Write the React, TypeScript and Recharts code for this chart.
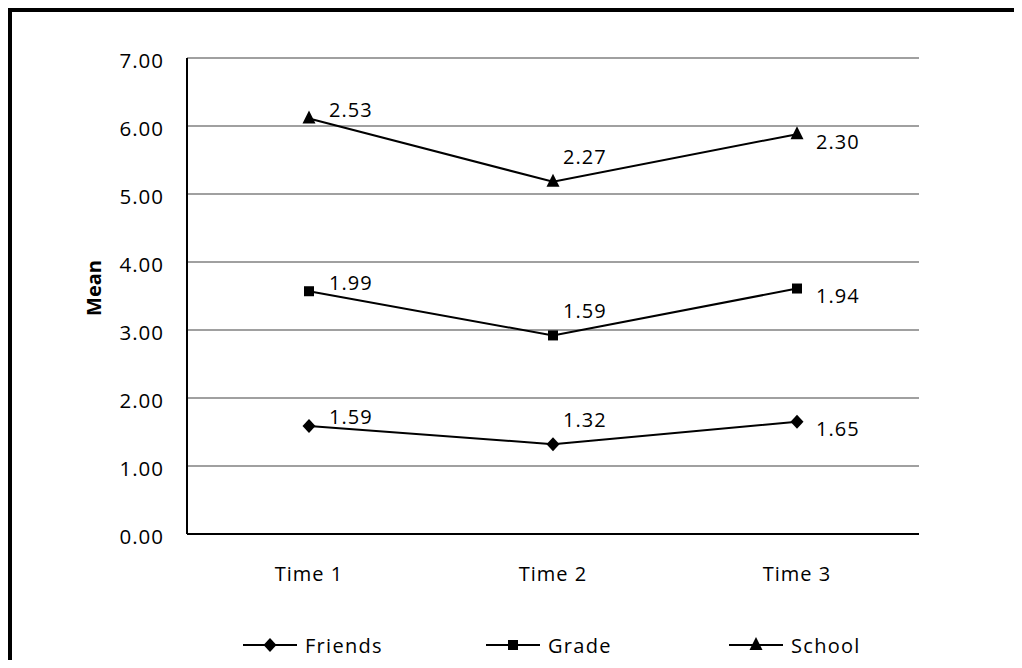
// @ts-ignore
import React from 'react'
// @ts-ignore
import { LineChart, Line, XAxis, YAxis, CartesianGrid, Legend, LabelList } from 'recharts'

const times = ['Time 1', 'Time 2', 'Time 3']
const friends = [1.59, 1.32, 1.65]
const grade = [3.57, 2.92, 3.61]
const school = [6.11, 5.18, 5.88]
const friendsLabels = ['1.59', '1.32', '1.65']
const gradeLabels = ['1.99', '1.59', '1.94']
const schoolLabels = ['2.53', '2.27', '2.30']
const yTicks = [0, 1, 2, 3, 4, 5, 6, 7]

const data = times.map((t, i) => ({
  time: t,
  friends: friends[i],
  grade: grade[i],
  school: school[i],
  friendsLbl: friendsLabels[i],
  gradeLbl: gradeLabels[i],
  schoolLbl: schoolLabels[i],
}))

const font = '"Open Sans", sans-serif'

const Diamond = (p: any) => {
  const { cx, cy } = p
  if (cx == null) return null
  return <path d={`M${cx},${cy - 7}L${cx + 6.5},${cy}L${cx},${cy + 7}L${cx - 6.5},${cy}Z`} fill="#000" />
}
const Square = (p: any) => {
  const { cx, cy } = p
  if (cx == null) return null
  return <rect x={cx - 5} y={cy - 5} width={10} height={10} fill="#000" />
}
const Triangle = (p: any) => {
  const { cx, cy } = p
  if (cx == null) return null
  return <path d={`M${cx},${cy - 8}L${cx + 6.5},${cy + 5}L${cx - 6.5},${cy + 5}Z`} fill="#000" />
}

// label placement roughly like the original (right-up, above, right)
const offsets = [
  { dx: 20, dy: -9 },
  { dx: 10, dy: -25 },
  { dx: 19, dy: 7 },
]

const renderLabel = (p: any) => {
  const { x, y, value, index } = p
  const o = offsets[index] || offsets[0]
  return (
    <text x={x + o.dx} y={y + o.dy} dominantBaseline="central" fontSize={20}
      fontFamily={font} letterSpacing={1} fill="#000">{value}</text>
  )
}

const MeanLabel = (p: any) => {
  const vb = p.viewBox || { x: 0, y: 0, width: 0, height: 0 }
  const x = vb.x + 85
  const y = vb.y + vb.height / 2 - 8
  return (
    <text x={x} y={y} transform={`rotate(-90, ${x}, ${y})`} textAnchor="middle" dominantBaseline="central"
      fontSize={20} fontWeight="bold" fontFamily={font} fill="#000">Mean</text>
  )
}

const legendItems = [
  { name: 'Friends', Icon: Diamond },
  { name: 'Grade', Icon: Square },
  { name: 'School', Icon: Triangle },
]

const renderLegend = () => (
  <div style={{ display: 'flex', height: 30, alignItems: 'center', paddingLeft: 235 }}>
    {legendItems.map(it => (
      <div key={it.name} style={{ width: 243, display: 'flex', alignItems: 'center' }}>
        <svg width={56} height={20}>
          <line x1={0} y1={10} x2={54} y2={10} stroke="#000" strokeWidth={2} />
          <it.Icon cx={27} cy={10} />
        </svg>
        <span style={{ fontFamily: font, fontSize: 20, letterSpacing: 1.3, marginLeft: 6, color: '#000' }}>{it.name}</span>
      </div>
    ))}
  </div>
)

export default function App() {
  return (
    <div style={{ position: 'relative', width: 1014, height: 652, background: '#fff' }}>
      <LineChart width={1014} height={652} data={data}
        margin={{ top: 50, right: 103, bottom: 0, left: 0 }}>
        <CartesianGrid vertical={false} stroke="#a0a0a0" strokeWidth={2} />
        <XAxis dataKey="time" padding={{ left: 122, right: 122 }} height={96}
          axisLine={{ stroke: '#000', strokeWidth: 2 }} tickLine={false} tickSize={0} tickMargin={33}
          tick={{ fontSize: 20, fontFamily: font, fill: '#000', letterSpacing: 1 }} />
        <YAxis domain={[0, 7]} ticks={yTicks} width={179} interval={0}
          tickFormatter={(v: number) => v.toFixed(2)}
          axisLine={{ stroke: '#000', strokeWidth: 2 }} tickLine={false} tickSize={0} tickMargin={23}
          tick={{ fontSize: 20.5, fontFamily: font, fill: '#000', letterSpacing: 1, dy: 3 }}
          label={<MeanLabel />} />
        <Legend verticalAlign="bottom" content={renderLegend}
          wrapperStyle={{ height: 30, width: 1014, left: 0 }} />
        <Line dataKey="friends" name="Friends" stroke="#000" strokeWidth={2} dot={<Diamond />}
          activeDot={false} isAnimationActive={false}>
          <LabelList dataKey="friendsLbl" content={renderLabel} />
        </Line>
        <Line dataKey="grade" name="Grade" stroke="#000" strokeWidth={2} dot={<Square />}
          activeDot={false} isAnimationActive={false}>
          <LabelList dataKey="gradeLbl" content={renderLabel} />
        </Line>
        <Line dataKey="school" name="School" stroke="#000" strokeWidth={2} dot={<Triangle />}
          activeDot={false} isAnimationActive={false}>
          <LabelList dataKey="schoolLbl" content={renderLabel} />
        </Line>
      </LineChart>
      <div style={{ position: 'absolute', left: 0, top: 0, width: 1014, height: 652,
        borderTop: '4px solid #000', borderLeft: '4px solid #000', boxSizing: 'border-box', pointerEvents: 'none' }} />
    </div>
  )
}
